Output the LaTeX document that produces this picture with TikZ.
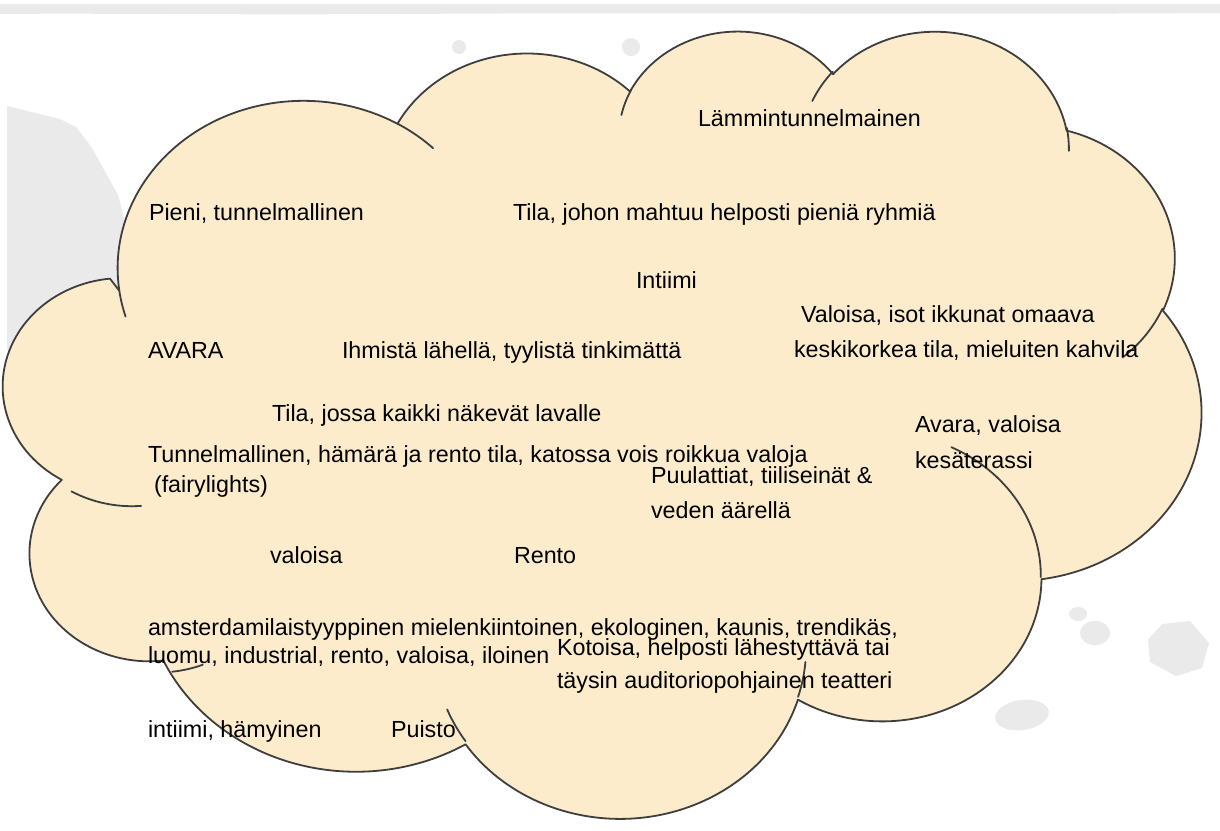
\documentclass[tikz,border=0pt]{standalone}
\usepackage{fontspec}
\setmainfont{Liberation Sans}
\definecolor{cloudfill}{RGB}{252,236,203}
\definecolor{cloudline}{RGB}{62,62,62}
\definecolor{smudge}{RGB}{234,234,234}
\tikzset{
  cloudedge/.style={draw=cloudline, line width=1.8pt, line join=round, line cap=round},
  word/.style={anchor=base west, inner sep=0pt, outer sep=0pt, text=black,
               font=\fontsize{23.3}{28}\selectfont},
}
% one elliptical arc of the cloud outline: x radius, y radius,
% start angle and sweep, both measured as true directions on the ellipse
\newcommand\cloudarc[4]{arc[start angle={atan2((#1)*sin(#3),(#2)*cos(#3))},
  delta angle={mod(atan2((#1)*sin((#3)+(#4)),(#2)*cos((#3)+(#4)))-atan2((#1)*sin(#3),(#2)*cos(#3))+720,360)},
  x radius=#1, y radius=#2]}
\begin{document}
\begin{tikzpicture}[x=1pt, y=-1pt]
\useasboundingbox (0,0) rectangle (1220,830);
\fill[white] (0,0) rectangle (1220,830);

% faint paper texture behind the cloud
\fill[smudge] (0,4) -- (1220,4) -- (1220,13) .. controls (900,15) and (700,12) .. (400,14)
  .. controls (200,15) and (100,13) .. (0,14) -- cycle;
\fill[smudge] (7,106) -- (60,119) -- (76,127) -- (92,148) -- (118,195) -- (135,260)
  -- (135,335) -- (40,346) -- (7,350) -- cycle;
\fill[smudge] (459,47) circle[radius=7];
\fill[smudge] (631,47) circle[radius=9];
\fill[smudge] (1078,614) ellipse[x radius=9, y radius=7];
\fill[smudge] (1095,633) ellipse[x radius=15, y radius=12];
\fill[smudge] (1162,624) -- (1190,621) -- (1209,643) -- (1202,668) -- (1176,676) -- (1150,662) -- (1148,640) -- cycle;
\fill[smudge, rotate around={8:(1022,715)}] (1022,715) ellipse[x radius=27, y radius=15];

% the cloud, laid out in a 432 x 432 frame
\begin{scope}[shift={(12,29)}, xscale=1189/432, yscale=787/432]
  \path[cloudedge, fill=cloudfill] (39.00,143.70)
    \cloudarc{67.53}{91.90}{-190.48748}{123.78053}
    \cloudarc{53.33}{72.67}{-144.10238}{89.94523}
    \cloudarc{43.65}{59.45}{-145.80792}{99.72302}
    \cloudarc{48.57}{65.95}{-130.98607}{117.24173}
    \cloudarc{53.33}{72.73}{-78.70888}{109.02692}
    \cloudarc{67.75}{92.20}{-46.26725}{130.26900}
    \cloudarc{57.85}{78.67}{0.62502}{114.03333}
    \cloudarc{67.52}{92.15}{22.45160}{115.17255}
    \cloudarc{77.20}{105.43}{66.24263}{81.37515}
    \cloudarc{43.60}{59.18}{-274.94208}{146.73557}
    \cloudarc{43.45}{59.45}{-246.82850}{152.51885}
    -- cycle;
  % short inner arcs where the lobes meet
  \path[cloudedge]
    (46.93,261.77) \cloudarc{43.45}{59.45}{86.742}{26.4295}
    (69.28,348.99) \cloudarc{43.60}{59.18}{73.61047}{11.44747}
    (164.78,390.90) \cloudarc{67.52}{92.15}{137.62415}{14.0811}
    (288.27,347.51) \cloudarc{67.52}{92.15}{6.45327}{15.99835}
    (341.29,229.54) \cloudarc{57.85}{78.67}{-70.29235}{70.91737}
    (417.98,153.54) \cloudarc{53.33}{72.73}{30.31803}{27.7515}
    (383.24,54.26) \cloudarc{48.57}{65.95}{-13.74433}{14.857}
    (290.78,39.52) \cloudarc{48.57}{65.95}{-149.18145}{18.19588}
    (221.41,47.20) \cloudarc{43.65}{59.45}{-163.49427}{17.691}
    (140.00,51.92) \cloudarc{67.53}{91.90}{-66.70695}{12.31935}
    (41.27,157.89) \cloudarc{67.53}{91.90}{157.65435}{11.85817};
\end{scope}

% the collected words
\node[word] (w1) at (698,126) {Lämmintunnelmainen};
\node[word] (w2) at (149,220) {Pieni, tunnelmallinen};
\node[word] (w3) at (513,220) {Tila, johon mahtuu helposti pieniä ryhmiä};
\node[word] (w4) at (636,288) {Intiimi};
\node[word] (w5a) at (801,322) {Valoisa, isot ikkunat omaava};
\node[word] (w5b) at (794,357) {keskikorkea tila, mieluiten kahvila};
\node[word] (w6) at (148,358) {AVARA};
\node[word] (w7) at (342,358) {Ihmistä lähellä, tyylistä tinkimättä};
\node[word] (w8) at (272,421) {Tila, jossa kaikki näkevät lavalle};
\node[word] (w9a) at (148,462) {Tunnelmallinen, hämärä ja rento tila, katossa vois roikkua valoja};
\node[word] (w9b) at (154,492) {(fairylights)};
\node[word] (w10a) at (915,432) {Avara, valoisa};
\node[word] (w10b) at (915,468) {kesäterassi};
\node[word] (w11a) at (651,483) {Puulattiat, tiiliseinät \&};
\node[word] (w11b) at (651,518) {veden äärellä};
\node[word] (w12) at (270,563) {valoisa};
\node[word] (w13) at (514,563) {Rento};
\node[word] (w14a) at (148,635) {amsterdamilaistyyppinen mielenkiintoinen, ekologinen, kaunis, trendikäs,};
\node[word] (w14b) at (148,663) {luomu, industrial, rento, valoisa, iloinen};
\node[word] (w15a) at (557,655) {Kotoisa, helposti lähestyttävä tai};
\node[word] (w15b) at (557,688) {täysin auditoriopohjainen teatteri};
\node[word] (w16) at (148,737) {intiimi, hämyinen};
\node[word] (w17) at (391,737) {Puisto};
\end{tikzpicture}
\end{document}
